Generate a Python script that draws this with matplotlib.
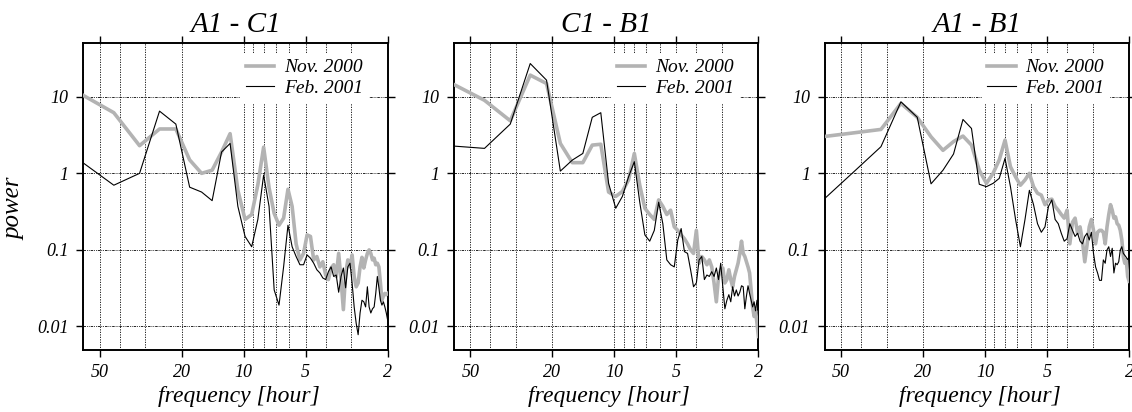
import numpy as np
import matplotlib
matplotlib.use("Agg")
import matplotlib.pyplot as plt
from matplotlib.ticker import FixedLocator, FuncFormatter, NullFormatter, NullLocator, LogLocator

plt.rcParams['font.family'] = ['Liberation Serif', 'DejaVu Serif']
plt.rcParams['font.style'] = 'italic'

# spectral lines k = 2..64 of a 128 hour window
WINDOW_HOURS = 128
harmonic = np.arange(2, 65)
period = WINDOW_HOURS / harmonic

titles = ["A1 - C1", "C1 - B1", "A1 - B1"]
labels = ["Nov. 2000", "Feb. 2001"]

a1c1_nov = [11.5, 6.2, 2.3, 3.8, 3.8, 1.5, 1.0, 1.1, 1.9, 3.3,
            0.6, 0.25, 0.29, 0.71, 2.2, 0.65, 0.30, 0.21, 0.26, 0.62,
            0.37, 0.12, 0.074, 0.09, 0.157, 0.15, 0.074, 0.082, 0.06, 0.07,
            0.047, 0.041, 0.058, 0.064, 0.045, 0.09, 0.041, 0.0166, 0.049, 0.074,
            0.06, 0.086, 0.045, 0.033, 0.037, 0.06, 0.08, 0.058, 0.074, 0.09,
            0.1, 0.09, 0.074, 0.078, 0.064, 0.067, 0.06, 0.037, 0.022, 0.025,
            0.027, 0.026, 0.027]
a1c1_feb = [1.55, 0.70, 1.0, 6.5, 4.4, 0.66, 0.57, 0.44, 1.9, 2.46,
            0.37, 0.15, 0.11, 0.25, 0.95, 0.37, 0.030, 0.019, 0.06, 0.21,
            0.11, 0.082, 0.064, 0.064, 0.086, 0.078, 0.067, 0.055, 0.05, 0.043,
            0.041, 0.052, 0.06, 0.045, 0.047, 0.028, 0.045, 0.058, 0.032, 0.06,
            0.067, 0.037, 0.018, 0.011, 0.0078, 0.015, 0.022, 0.021, 0.018, 0.033,
            0.018, 0.015, 0.017, 0.018, 0.027, 0.045, 0.032, 0.022, 0.019, 0.021,
            0.018, 0.015, 0.012]

c1b1_nov = [15.8, 9.0, 4.86, 19.2, 14.9, 2.46, 1.38, 1.38, 2.34, 2.4,
            0.57, 0.50, 0.58, 0.82, 1.82, 0.70, 0.35, 0.29, 0.25, 0.45,
            0.37, 0.29, 0.33, 0.2, 0.18, 0.157, 0.14, 0.12, 0.10, 0.09,
            0.18, 0.067, 0.082, 0.074, 0.064, 0.074, 0.06, 0.037, 0.021, 0.045,
            0.055, 0.058, 0.037, 0.041, 0.055, 0.041, 0.033, 0.045, 0.055, 0.067,
            0.09, 0.13, 0.09, 0.082, 0.07, 0.06, 0.05, 0.03, 0.018, 0.0135,
            0.016, 0.011, 0.0074]
c1b1_feb = [2.3, 2.12, 4.4, 27.2, 16.5, 1.07, 1.49, 1.82, 5.4, 6.2,
            0.74, 0.35, 0.5, 0.9, 1.42, 0.42, 0.157, 0.13, 0.18, 0.42,
            0.22, 0.074, 0.064, 0.06, 0.135, 0.19, 0.095, 0.09, 0.055, 0.033,
            0.037, 0.074, 0.082, 0.041, 0.047, 0.045, 0.052, 0.045, 0.058, 0.041,
            0.067, 0.033, 0.017, 0.022, 0.026, 0.021, 0.033, 0.025, 0.03, 0.025,
            0.028, 0.034, 0.033, 0.017, 0.025, 0.034, 0.027, 0.022, 0.018, 0.021,
            0.016, 0.022, 0.021]

a1b1_nov = [2.97, 3.4, 3.75, 8.2, 5.4, 3.0, 2.0, 2.6, 3.07, 2.34,
            1.1, 0.74, 1.0, 1.5, 2.72, 1.22, 0.9, 0.70, 0.82, 1.0,
            0.67, 0.55, 0.52, 0.39, 0.45, 0.46, 0.37, 0.33, 0.29, 0.26,
            0.33, 0.12, 0.23, 0.26, 0.165, 0.2, 0.13, 0.07, 0.116, 0.2,
            0.25, 0.18, 0.12, 0.17, 0.18, 0.18, 0.17, 0.12, 0.2, 0.29,
            0.39, 0.33, 0.26, 0.27, 0.22, 0.21, 0.18, 0.135, 0.082, 0.067,
            0.074, 0.045, 0.039]
a1b1_feb = [0.40, 1.09, 2.23, 8.6, 5.4, 0.73, 1.1, 1.79, 5.06, 3.86,
            0.72, 0.67, 0.74, 0.86, 1.57, 0.67, 0.25, 0.11, 0.25, 0.6,
            0.39, 0.22, 0.17, 0.2, 0.37, 0.45, 0.25, 0.22, 0.165, 0.13,
            0.14, 0.22, 0.18, 0.15, 0.165, 0.13, 0.12, 0.15, 0.165, 0.135,
            0.17, 0.09, 0.06, 0.05, 0.04, 0.04, 0.074, 0.067, 0.1, 0.11,
            0.082, 0.105, 0.05, 0.067, 0.064, 0.07, 0.1, 0.11, 0.09, 0.085,
            0.08, 0.075, 0.08]

nov_series = [a1c1_nov, c1b1_nov, a1b1_nov]
feb_series = [a1c1_feb, c1b1_feb, a1b1_feb]

x_ticks = [50, 20, 10, 5, 2]
y_ticks = [0.01, 0.1, 1, 10]

fig = plt.figure(figsize=(11.32, 4.12), dpi=100)

W, H = 1132.0, 412.0
lefts = [83.3, 454.0, 824.7]
ax_w, ax_top, ax_bot = 304.4, 43.3, 349.5

grid_h = dict(color='black', linewidth=0.6, linestyle=(0, (3, 1.2, 1, 1.2, 1, 1.2)))
grid_v = dict(color='black', linewidth=0.6, linestyle=(0, (1.5, 1.5)))

for i in range(3):
    ax = fig.add_axes([lefts[i] / W, (H - ax_bot) / H, ax_w / W, (ax_bot - ax_top) / H])
    ax.plot(period, nov_series[i], color='#b3b3b3', linewidth=2.6, label=labels[0], zorder=3)
    ax.plot(period, feb_series[i], color='black', linewidth=0.8, label=labels[1], zorder=4)

    ax.set_xscale('log')
    ax.set_yscale('log')
    ax.set_xlim(60, 2)
    ax.set_ylim(0.005, 50)

    ax.xaxis.set_major_locator(FixedLocator(x_ticks))
    ax.xaxis.set_major_formatter(FuncFormatter(lambda v, p: "%g" % v))
    ax.xaxis.set_minor_locator(LogLocator(base=10, subs=np.arange(2, 10)))
    ax.xaxis.set_minor_formatter(NullFormatter())
    ax.yaxis.set_major_locator(FixedLocator(y_ticks))
    ax.yaxis.set_major_formatter(FuncFormatter(lambda v, p: "%g" % v))
    ax.yaxis.set_minor_locator(NullLocator())

    ax.grid(True, which='both', axis='x', **grid_v)
    ax.grid(True, which='major', axis='y', **grid_h)

    ax.tick_params(which='major', direction='out', length=5, width=1.0,
                   top=True, right=True, labelsize=13, pad=5.5)
    ax.tick_params(which='minor', length=0)
    for s in ax.spines.values():
        s.set_linewidth(1.4)

    ax.set_title(titles[i], fontsize=21, pad=8)
    ax.set_xlabel("frequency [hour]", fontsize=17)
    ax.xaxis.set_label_coords(0.51, -0.118)
    if i == 0:
        ax.set_ylabel("power", fontsize=18)
        ax.yaxis.set_label_coords(-0.19, 0.46)

    leg = ax.legend(loc='upper right', bbox_to_anchor=(0.97, 1.0), fontsize=14,
                    handlelength=1.45, handletextpad=0.5, labelspacing=0.15,
                    borderpad=0.3, fancybox=False, framealpha=1.0)
    leg.get_frame().set_edgecolor('none')
    leg.set_zorder(5)

fig.savefig("out.png", dpi=100)
